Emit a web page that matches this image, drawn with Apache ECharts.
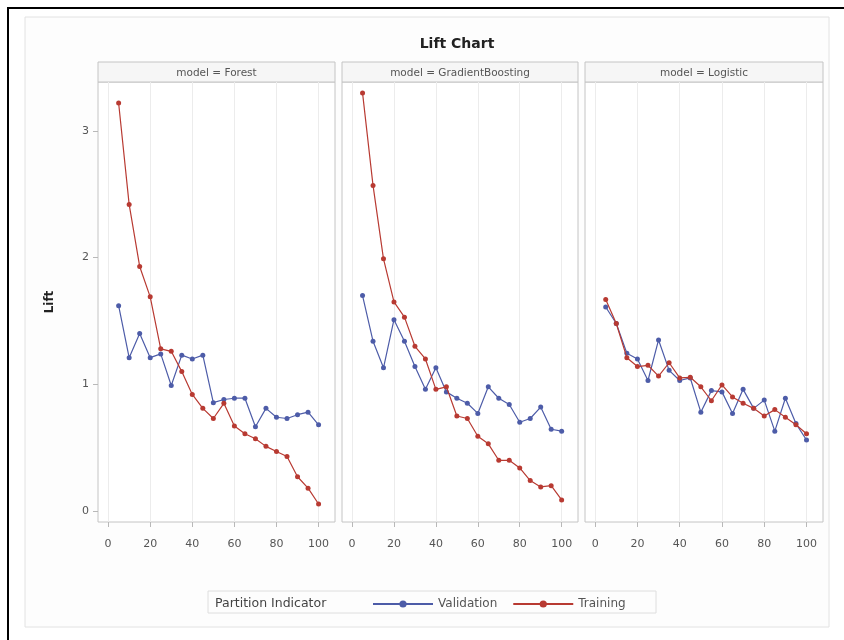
<!DOCTYPE html>
<html>
<head>
<meta charset="utf-8">
<script src="https://cdn.jsdelivr.net/npm/echarts@6/dist/echarts.min.js"></script>
<style>
html,body{margin:0;padding:0;background:#ffffff;}
#chart{width:844px;height:640px;}
</style>
</head>
<body>
<div id="chart"></div>
<script>
// ---- data ----
const xValues = [5,10,15,20,25,30,35,40,45,50,55,60,65,70,75,80,85,90,95,100];
const xTickLabels = [0,20,40,60,80,100];
const yTickLabels = [0,1,2,3];
const models = ['Forest','GradientBoosting','Logistic'];
const seriesNames = ['Validation','Training'];

const forestValidation = [1.62,1.21,1.40,1.21,1.24,0.99,1.23,1.20,1.23,0.855,0.88,0.89,0.89,0.665,0.81,0.74,0.73,0.76,0.78,0.68];
const forestTraining   = [3.22,2.42,1.93,1.69,1.28,1.26,1.10,0.92,0.81,0.73,0.85,0.67,0.61,0.57,0.51,0.47,0.43,0.27,0.18,0.055];
const gbValidation     = [1.70,1.34,1.13,1.51,1.34,1.14,0.96,1.13,0.94,0.89,0.85,0.77,0.98,0.89,0.84,0.70,0.73,0.82,0.645,0.63];
const gbTraining       = [3.30,2.57,1.99,1.65,1.53,1.30,1.20,0.96,0.98,0.75,0.73,0.59,0.53,0.40,0.40,0.34,0.24,0.19,0.20,0.087];
const logValidation    = [1.61,1.48,1.245,1.20,1.03,1.35,1.11,1.03,1.05,0.78,0.95,0.94,0.77,0.96,0.81,0.875,0.63,0.89,0.69,0.56];
const logTraining      = [1.67,1.48,1.21,1.14,1.15,1.065,1.17,1.05,1.055,0.98,0.87,0.995,0.90,0.85,0.81,0.75,0.80,0.74,0.68,0.61];

const panelData = [
  [forestValidation, forestTraining],
  [gbValidation, gbTraining],
  [logValidation, logTraining]
];

// ---- styles ----
const colors = ['#4d5ca8', '#b83a32'];
const FONT = 'DejaVu Sans';
const panelLeft = [98, 342, 585];
const panelWidth = [237, 236, 238];
const plotTop = 82, plotHeight = 440;
const headerTop = 62, headerHeight = 20;

const grids = [], xAxes = [], yAxes = [], series = [], graphics = [];

graphics.push({type:'rect', shape:{x:25,y:17,width:804,height:610}, style:{fill:'#fdfdfd', stroke:'#e2e2e2', lineWidth:1}, z:-10});
graphics.push({type:'rect', shape:{x:8,y:8,width:850,height:650}, style:{fill:null, stroke:'#000', lineWidth:2}, z:100});

models.forEach((m, p) => {
  grids.push({left: panelLeft[p], top: plotTop, width: panelWidth[p], height: plotHeight,
    show: true, backgroundColor: '#ffffff', borderColor: '#c4c4c4', borderWidth: 1});
  xAxes.push({
    type: 'value', gridIndex: p, min: -4.8, max: 107.8, position: 'bottom',
    axisLine: {show: false, onZero: false},
    axisTick: {show: true, length: 5, lineStyle: {color: '#b8b8b8'}, customValues: xTickLabels},
    axisLabel: {show: true, customValues: xTickLabels, margin: 17, color: '#555', fontFamily: FONT, fontSize: 11},
    splitLine: {show: true, lineStyle: {color: '#ececec', width: 1}}
  });
  yAxes.push({
    type: 'value', gridIndex: p, min: -0.087, max: 3.386, position: 'left',
    axisLine: {show: false, onZero: false},
    axisTick: {show: p === 0, length: 5, lineStyle: {color: '#b8b8b8'}, customValues: yTickLabels},
    axisLabel: {show: p === 0, customValues: yTickLabels, margin: 9, color: '#555', fontFamily: FONT, fontSize: 11},
    splitLine: {show: false},
    name: p === 0 ? 'Lift' : '',
    nameLocation: 'middle', nameRotate: 90, nameGap: 42,
    nameTextStyle: {fontFamily: FONT, fontSize: 12, fontWeight: 'bold', color: '#222'}
  });
  seriesNames.forEach((s, k) => {
    series.push({
      name: s, type: 'line', xAxisIndex: p, yAxisIndex: p,
      data: xValues.map((x, i) => [x, panelData[p][k][i]]),
      symbol: 'circle', symbolSize: 5, showSymbol: true,
      itemStyle: {color: colors[k]},
      lineStyle: {color: colors[k], width: 1.2},
      z: k === 1 ? 3 : 2,
      silent: true, animation: false
    });
  });
  graphics.push({type:'rect', shape:{x:panelLeft[p], y:headerTop, width:panelWidth[p], height:headerHeight},
    style:{fill:'#f6f6f6', stroke:'#c4c4c4', lineWidth:1}});
  graphics.push({type:'text', x: panelLeft[p] + panelWidth[p]/2, y: headerTop + headerHeight/2 + 1,
    style:{text: 'model = ' + m, fill:'#555', font: '10.5px "' + FONT + '"', align:'center', verticalAlign:'middle'}});
});

// legend box
graphics.push({type:'rect', shape:{x:208, y:591, width:448, height:22}, style:{fill:'#fdfdfd', stroke:'#dedede', lineWidth:1}, z:-5});
graphics.push({type:'text', x:215, y:604, style:{text:'Partition Indicator', fill:'#444', font:'12.5px "' + FONT + '"', align:'left', verticalAlign:'middle'}});

const option = {
  animation: false,
  backgroundColor: '#ffffff',
  title: {text: 'Lift Chart', left: 452, top: 32, textAlign: 'center',
    textStyle: {fontFamily: FONT, fontSize: 14, fontWeight: 'bold', color: '#222'}},
  legend: {data: seriesNames, left: 372, top: 598, padding: 0, itemWidth: 60, itemHeight: 9, itemGap: 15,
    textStyle: {fontFamily: FONT, fontSize: 12, color: '#555'}},
  grid: grids, xAxis: xAxes, yAxis: yAxes, series: series,
  graphic: graphics
};

const chart = echarts.init(document.getElementById('chart'), null, {renderer: 'canvas'});
chart.setOption(option);
</script>
</body>
</html>
